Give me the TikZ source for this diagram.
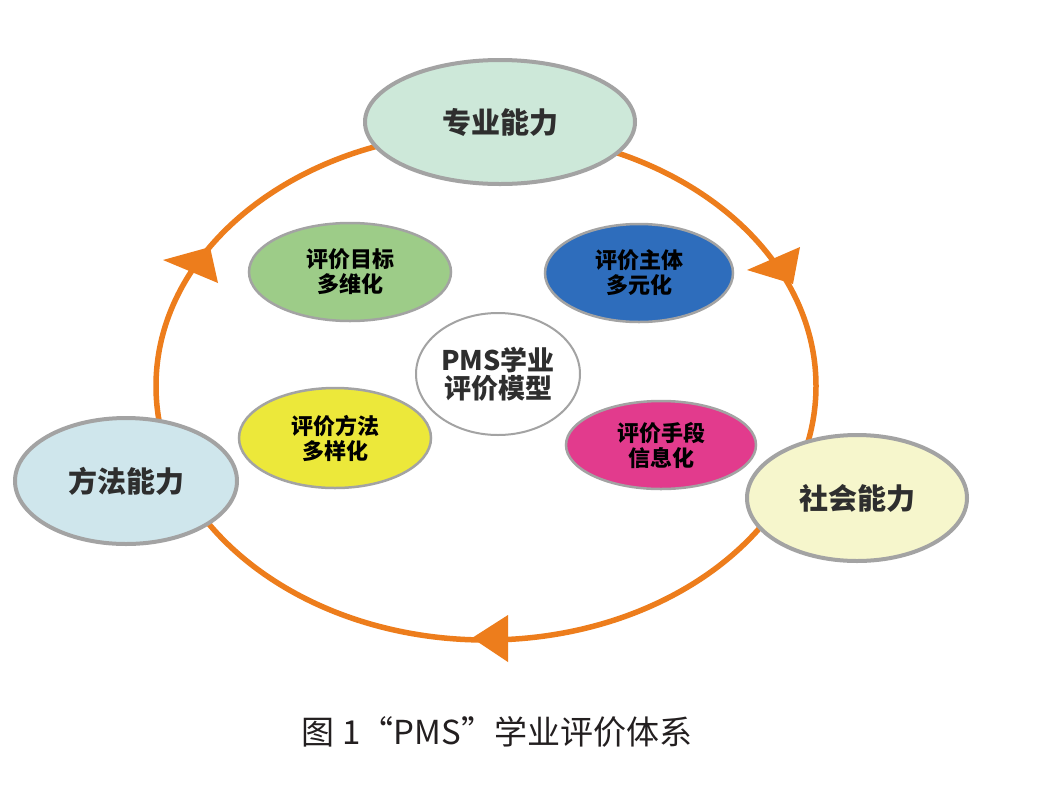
\documentclass[tikz,border=0pt]{standalone}
\usepackage{fontspec}
\newfontfamily\cjk{Noto Sans CJK SC}
\usetikzlibrary{shapes.geometric}
\definecolor{ringc}{HTML}{ED7D1C}
\definecolor{bordergray}{HTML}{A3A3A3}
\definecolor{textdark}{HTML}{2E2E2E}
\definecolor{mintc}{HTML}{CDE8D9}
\definecolor{skyc}{HTML}{CFE6EC}
\definecolor{creamc}{HTML}{F6F6CC}
\definecolor{greenc}{HTML}{9DCC88}
\definecolor{bluec}{HTML}{2E6DBC}
\definecolor{yellowc}{HTML}{ECE83A}
\definecolor{magentac}{HTML}{E23B8D}
\definecolor{captionc}{HTML}{231F20}
\begin{document}
\begin{tikzpicture}[x=1pt,y=-1pt,
  ability/.style={ellipse, draw=bordergray, line width=4pt, inner sep=0pt,
    font={\cjk\bfseries\fontsize{29}{30}\selectfont}, text=textdark},
  evalbox/.style={ellipse, draw=bordergray, line width=2.5pt, inner sep=0pt, align=center,
    font={\cjk\bfseries\fontsize{22}{25}\selectfont}, text=black},
  coremodel/.style={ellipse, draw=bordergray, line width=2pt, fill=white, inner sep=0pt, align=center,
    font={\cjk\bfseries\fontsize{27}{28}\selectfont}, text=textdark},
  ringline/.style={draw=ringc, line width=5.5pt},
  tiphead/.style={fill=ringc},
  captionstyle/.style={font={\cjk\fontsize{33}{36}\selectfont}, text=captionc}]
\useasboundingbox[fill=white] (0,0) rectangle (1050,804);
% ring
\coordinate (ringcenter) at (486,386);
\draw[ringline] (ringcenter) ellipse [x radius=330pt, y radius=254pt];
% arrow heads (clockwise)
\fill[tiphead] (163,260) -- (210,247) -- (218,283) -- cycle;
\fill[tiphead] (747,270) -- (800,247) -- (793,284) -- cycle;
\fill[tiphead] (508,615) -- (472,638) -- (508,662) -- cycle;
% abilities
\node[ability, fill=mintc, minimum width=270pt, minimum height=124pt] (zy) at (500,122) {专业能力};
\node[ability, fill=skyc, minimum width=222pt, minimum height=126pt] (ff) at (126,481) {方法能力};
\node[ability, fill=creamc, minimum width=220pt, minimum height=126pt] (sh) at (857,498) {社会能力};
% evaluation ellipses
\node[evalbox, fill=greenc, minimum width=202pt, minimum height=98pt] (mb) at (350,272) {评价目标\\多维化};
\node[evalbox, fill=bluec, minimum width=188pt, minimum height=98pt] (zt) at (639,273) {评价主体\\多元化};
\node[evalbox, fill=yellowc, minimum width=192pt, minimum height=100pt] (ffa) at (335,438) {评价方法\\多样化};
\node[evalbox, fill=magentac, minimum width=190pt, minimum height=88pt] (sd) at (661,445) {评价手段\\信息化};
% core
\node[coremodel, minimum width=164pt, minimum height=122pt] (pms) at (498,374) {PMS学业\\评价模型};
% caption
\node[captionstyle] (cap) at (497,732) {图 1“PMS”学业评价体系};
\end{tikzpicture}
\end{document}
